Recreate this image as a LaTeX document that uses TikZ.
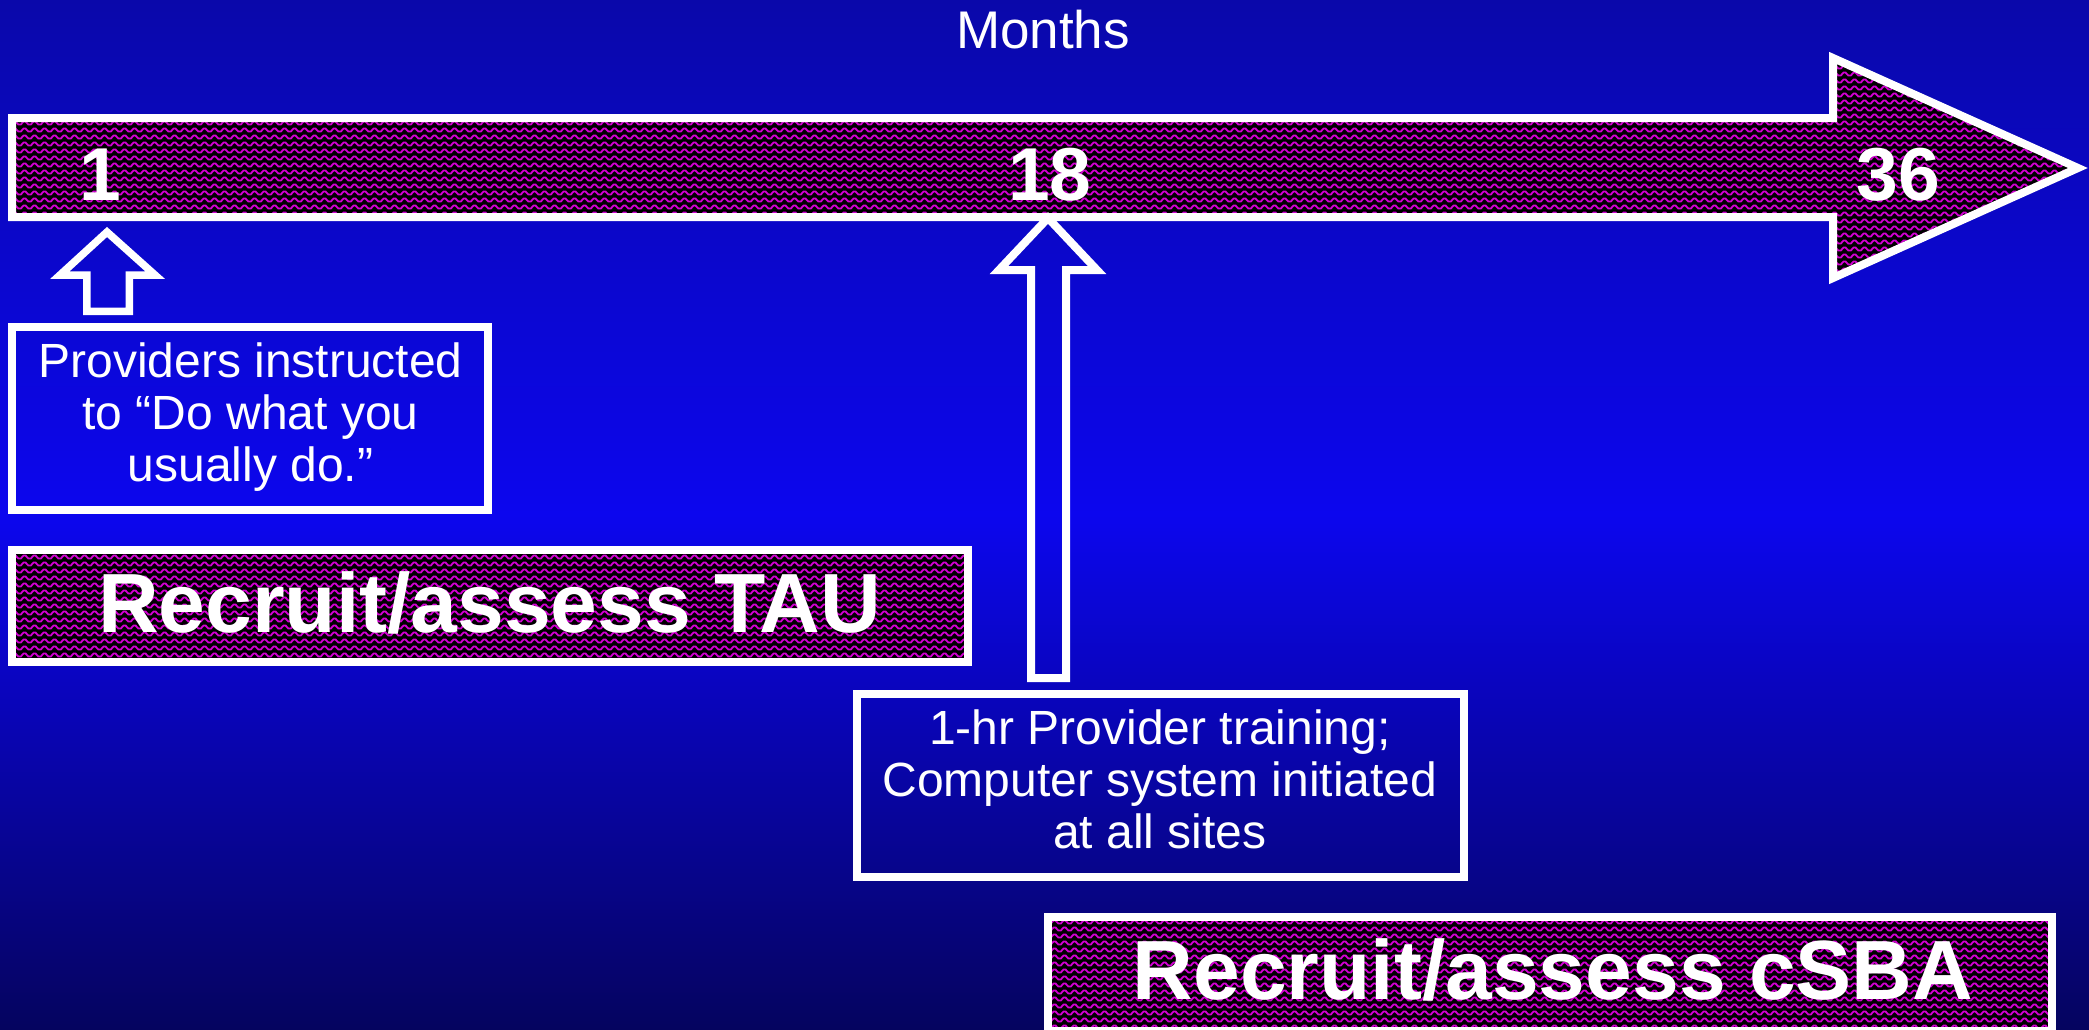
\documentclass[tikz,border=0pt]{standalone}
\usepackage{fontspec}
\setmainfont{Liberation Sans}
\usetikzlibrary{patterns}
\definecolor{wmag}{RGB}{210,0,210}
\definecolor{bgtop}{RGB}{10,8,170}
\definecolor{bgmid}{RGB}{12,6,238}
\definecolor{bgbot}{RGB}{5,4,95}
\pgfdeclarepatternformonly{waves}{\pgfqpoint{0pt}{0pt}}{\pgfqpoint{10pt}{7pt}}{\pgfqpoint{10pt}{7pt}}{%
  \pgfsetlinewidth{2pt}%
  \pgfpathmoveto{\pgfqpoint{-1pt}{1.8pt}}%
  \pgfpathlineto{\pgfqpoint{1pt}{1.8pt}}%
  \pgfpathcurveto{\pgfqpoint{2.5pt}{1.8pt}}{\pgfqpoint{2.5pt}{5.2pt}}{\pgfqpoint{4pt}{5.2pt}}%
  \pgfpathlineto{\pgfqpoint{6pt}{5.2pt}}%
  \pgfpathcurveto{\pgfqpoint{7.5pt}{5.2pt}}{\pgfqpoint{7.5pt}{1.8pt}}{\pgfqpoint{9pt}{1.8pt}}%
  \pgfpathlineto{\pgfqpoint{11pt}{1.8pt}}%
  \pgfusepath{stroke}}
\tikzset{
  wline/.style={draw=white, line width=8pt, line join=miter},
  patfill/.style={preaction={fill=black}, pattern=waves, pattern color=wmag},
  patbox/.style={patfill, wline, rectangle, inner sep=0pt},
  plainbox/.style={wline, rectangle, inner sep=0pt},
  numtxt/.style={text=white, font=\fontsize{75}{80}\selectfont\bfseries, anchor=base, inner sep=0pt},
  bigtxt/.style={text=white, font=\fontsize{84}{90}\selectfont\bfseries, anchor=base, inner sep=0pt},
  bodytxt/.style={text=white, font=\fontsize{48}{52}\selectfont, align=center, inner sep=0pt},
  titletxt/.style={text=white, font=\fontsize{53}{58}\selectfont, anchor=base, inner sep=0pt},
}
\begin{document}
\begin{tikzpicture}[x=1pt, y=-1pt]
\useasboundingbox (0,0) rectangle (2089,1029);
\shade[top color=bgtop, bottom color=bgbot, middle color=bgmid] (0,0) rectangle (2089,1029);

% title
\node[titletxt] (months) at (1043,48) {Months};

% main timeline arrow
\path[patfill, wline] (12,118) -- (1833,118) -- (1833,58) -- (2078,168) -- (1833,278) -- (1833,217) -- (12,217) -- cycle;
\node[numtxt] (m1) at (100,200) {1};
\node[numtxt] (m18) at (1050,200) {18};
\node[numtxt] (m36) at (1898,200) {36};

% small up arrow at month 1
\draw[draw=white, line width=7.5pt, line join=miter] (86.75,311.25) -- (86.75,275) -- (60,275) -- (107,232) -- (155,275) -- (129.25,275) -- (129.25,311.25) -- cycle;

% providers box
\node[plainbox, minimum width=476pt, minimum height=183pt] (prov) at (250,418.5) {};
\node[bodytxt] (provt) at (250.5,417.5) {Providers instructed\\to “Do what you\\usually do.”};

% TAU box
\node[patbox, minimum width=956pt, minimum height=112pt] (tau) at (490,606) {};
\node[bigtxt] (taut) at (489.5,632) {Recruit/assess TAU};

% big up arrow at month 18
\draw[wline] (1031,678) -- (1031,270) -- (999,270) -- (1048,218) -- (1097,270) -- (1066,270) -- (1066,678) -- cycle;

% training box
\node[plainbox, minimum width=607pt, minimum height=183pt] (train) at (1160.5,785.5) {};
\node[bodytxt] (traint) at (1160,779) {1-hr Provider training;\\Computer system initiated\\at all sites};

% cSBA box
\node[patbox, minimum width=1004pt, minimum height=114pt] (csba) at (1550,974) {};
\node[bigtxt] (csbat) at (1553,999) {Recruit/assess cSBA};
\end{tikzpicture}
\end{document}
